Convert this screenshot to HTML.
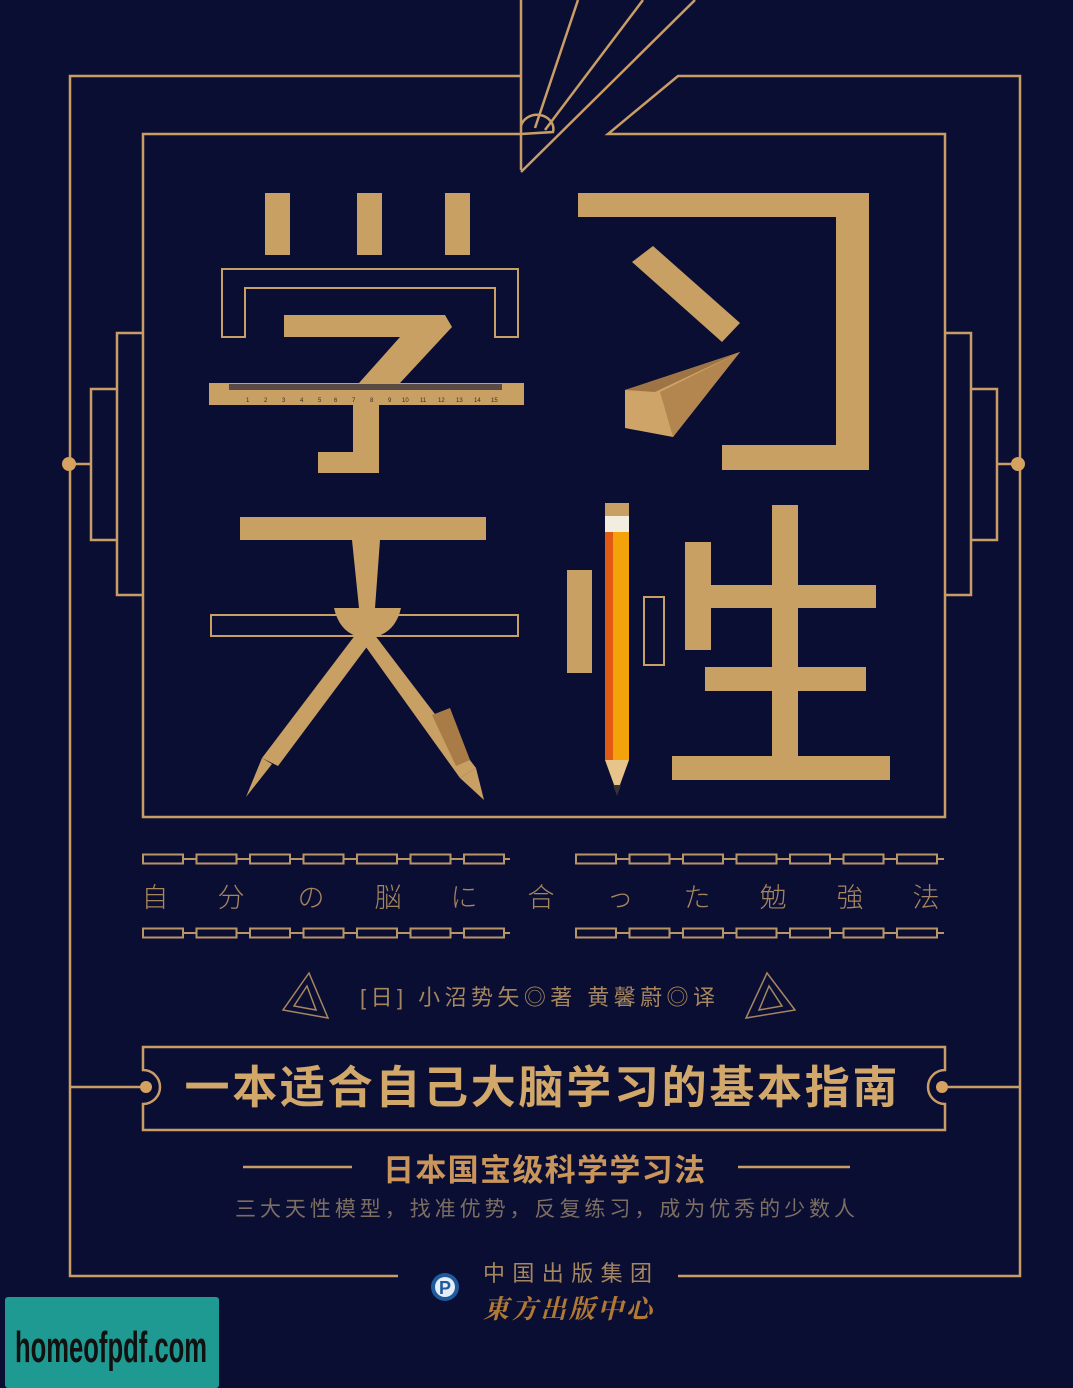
<!DOCTYPE html>
<html><head><meta charset="utf-8"><style>
html,body{margin:0;padding:0;background:#0b0e33;}
svg{display:block}
text{font-family:"Liberation Sans","Noto Sans CJK SC",sans-serif}
</style></head><body>
<svg width="1073" height="1388" viewBox="0 0 1073 1388">
<rect width="1073" height="1388" fill="#0b0e33"/>
<g fill="none" stroke="#c99d66" stroke-width="2.5">
  <polyline points="521,0 521,170"/>
  <polyline points="521,76 70,76 70,1276 398,1276"/>
  <polyline points="678,1276 1020,1276 1020,76 678,76 608,134 945,134 945,817 143,817 143,134 521,134"/>
  <line x1="535" y1="128" x2="578" y2="0"/>
  <line x1="545" y1="130" x2="643" y2="0"/>
  <line x1="521" y1="172" x2="695" y2="0"/>
  <path d="M521,126 A15,13 0 0 1 553,132 L521,134"/>
  <polyline points="143,333 117,333 117,595 143,595"/>
  <polyline points="117,389 91,389 91,540 117,540"/>
  <line x1="69" y1="464" x2="91" y2="464"/>
  <polyline points="945,333 971,333 971,595 945,595"/>
  <polyline points="971,389 997,389 997,540 971,540"/>
  <line x1="997" y1="464" x2="1019" y2="464"/>
</g>
<circle cx="69" cy="464" r="7" fill="#d6a261"/>
<circle cx="1018" cy="464" r="7" fill="#d6a261"/>

<g fill="#c9a064">
  <rect x="265" y="193" width="25" height="62"/>
  <rect x="357" y="193" width="25" height="62"/>
  <rect x="445" y="193" width="25" height="62"/>
  <polygon points="222,337 222,269 518,269 518,337 495,337 495,288 245,288 245,337" fill="none" stroke="#c9a064" stroke-width="2"/>
  <polygon points="284,315 445,315 452,327 400,383 359,383 400,337 284,337"/>
  <rect x="353" y="400" width="26" height="73"/>
  <rect x="318" y="452" width="61" height="21"/>
  <rect x="209" y="383" width="315" height="22"/>
  <rect x="229" y="384" width="133" height="6" fill="#5a4a45"/>
  <rect x="362" y="384" width="140" height="6" fill="#5a4a45"/>
</g>
<g fill="#3a2d25" font-size="6">
  <text x="246" y="402">1</text><text x="264" y="402">2</text><text x="282" y="402">3</text><text x="300" y="402">4</text><text x="318" y="402">5</text><text x="334" y="402">6</text><text x="352" y="402">7</text><text x="370" y="402">8</text><text x="388" y="402">9</text><text x="402" y="402">10</text><text x="420" y="402">11</text><text x="438" y="402">12</text><text x="456" y="402">13</text><text x="474" y="402">14</text><text x="491" y="402">15</text>
</g>

<g fill="#c9a064">
  <polygon points="578,193 869,193 869,470 722,470 722,445 836,445 836,217 578,217"/>
  <polygon points="632,262 653,246 740,323 722,342"/>
  <polygon points="625,390 740,352 673,437 625,428" fill="#cfa468"/>
  <polygon points="625,390 740,352 655,392" fill="#9e7444"/>
  <polygon points="740,352 673,437 660,392" fill="#b4864f"/>
</g>

<g fill="#c9a064">
  <rect x="240" y="517" width="246" height="23"/>
  <polygon points="352,540 380,540 375,608 359,608"/>
  <rect x="211" y="615" width="307" height="21" fill="none" stroke="#c9a064" stroke-width="2"/>
  <path d="M334,608 L401,608 Q396,630 378,636 L356,636 Q339,630 334,608Z"/>
  <polygon points="356,634 372,640 278,766 262,758"/>
  <polygon points="262,758 272,764 246,797"/>
  <polygon points="358,636 374,634 476,768 460,778"/>
  <polygon points="432,715 450,708 470,760 456,766" fill="#a97c47"/>
  <polygon points="460,778 476,768 484,800"/>
</g>

<g>
  <rect x="567" y="570" width="25" height="103" fill="#c9a064"/>
  <rect x="644" y="597" width="20" height="68" fill="none" stroke="#c9a064" stroke-width="2"/>
  <g>
    <rect x="605" y="503" width="24" height="13" fill="#c9a064"/>
    <rect x="605" y="516" width="24" height="16" fill="#f3ede0"/>
    <rect x="605" y="532" width="8" height="228" fill="#e05a14"/>
    <rect x="613" y="532" width="16" height="228" fill="#f4a20a"/>
    <polygon points="605,760 629,760 617,793" fill="#e6c48a"/>
    <polygon points="613,785 621,785 617,796" fill="#333"/>
  </g>
  <g fill="#c9a064">
    <rect x="685" y="542" width="26" height="108"/>
    <rect x="772" y="505" width="26" height="252"/>
    <rect x="711" y="585" width="165" height="23"/>
    <rect x="705" y="667" width="161" height="24"/>
    <rect x="672" y="756" width="218" height="24"/>
  </g>
</g>

<g fill="none" stroke="#b99465" stroke-width="2">
  <line x1="143" y1="859" x2="510" y2="859"/><line x1="576" y1="859" x2="944" y2="859"/>
  <line x1="143" y1="933" x2="510" y2="933"/><line x1="576" y1="933" x2="944" y2="933"/>
</g>
<g id="boxes" fill="#0b0e33" stroke="#b99465" stroke-width="2"></g>

<g fill="#a5865f" font-size="27" text-anchor="middle" style="font-family:'Noto Serif CJK SC','Liberation Serif',serif;font-weight:200">
  <text x="155" y="907">自</text><text x="231" y="907">分</text><text x="311" y="907">の</text><text x="388" y="907">脳</text><text x="464" y="907">に</text><text x="541" y="907">合</text><text x="620" y="907">っ</text><text x="697" y="907">た</text><text x="773" y="907">勉</text><text x="850" y="907">強</text><text x="926" y="907">法</text>
</g>

<g fill="none" stroke="#a5865f" stroke-width="1.5">
  <polygon points="309,973 283,1010 328,1018"/><polygon points="307,986 294,1006 316,1010"/>
  <polygon points="767,973 746,1018 795,1010"/><polygon points="769,986 759,1010 782,1006"/>
</g>
<text x="360" y="1005" font-size="22" fill="#a5865f" textLength="355">[日] 小沼势矢◎著  黄馨蔚◎译</text>

<g fill="none" stroke="#c99d66" stroke-width="2.5">
  <path d="M143,1047 H945 V1070 A17,17 0 0 0 945,1104 V1130 H143 V1104 A17,17 0 0 0 143,1070 Z"/>
  <line x1="70" y1="1087" x2="146" y2="1087"/><line x1="942" y1="1087" x2="1020" y2="1087"/>
</g>
<circle cx="146" cy="1087" r="6" fill="#d6a261"/><circle cx="942" cy="1087" r="6" fill="#d6a261"/>
<text x="541" y="1103" font-size="45" font-weight="bold" fill="#d2a86a" text-anchor="middle" textLength="713">一本适合自己大脑学习的基本指南</text>

<line x1="243" y1="1167" x2="352" y2="1167" stroke="#c99d66" stroke-width="2.5"/>
<line x1="738" y1="1167" x2="850" y2="1167" stroke="#c99d66" stroke-width="2.5"/>
<text x="383" y="1181" font-size="31" font-weight="bold" fill="#c9955a" textLength="322">日本国宝级科学学习法</text>
<text x="235" y="1216" font-size="21" fill="#7d6e62" textLength="620">三大天性模型，找准优势，反复练习，成为优秀的少数人</text>

<circle cx="445" cy="1287" r="14" fill="#1d5a9e"/>
<circle cx="445" cy="1287" r="10" fill="#e8eef5"/>
<text x="445" y="1294" font-size="18" font-weight="bold" fill="#1d5a9e" text-anchor="middle">P</text>
<text x="483" y="1281" font-size="22" fill="#a5865f" textLength="169">中国出版集团</text>
<text x="483" y="1318" font-size="26" font-weight="bold" fill="#b07a35" textLength="169" style="font-family:'Noto Serif CJK SC',serif;font-style:italic">東方出版中心</text>

<rect x="5" y="1297" width="214" height="91" rx="3" fill="#1f9a93"/>
<text x="15" y="1362" font-size="44" font-weight="bold" fill="#111" textLength="192" lengthAdjust="spacingAndGlyphs">homeofpdf.com</text>
</svg>
<script>
var g=document.getElementById('boxes');
var rows=[859,933], starts=[143,576];
rows.forEach(function(y){starts.forEach(function(s){
  for(var i=0;i<7;i++){
    var r=document.createElementNS('http://www.w3.org/2000/svg','rect');
    r.setAttribute('x',s+i*53.5);r.setAttribute('y',y-4.5);
    r.setAttribute('width',40);r.setAttribute('height',9);
    
    
    g.appendChild(r);
  }
});});
</script>
</body></html>
